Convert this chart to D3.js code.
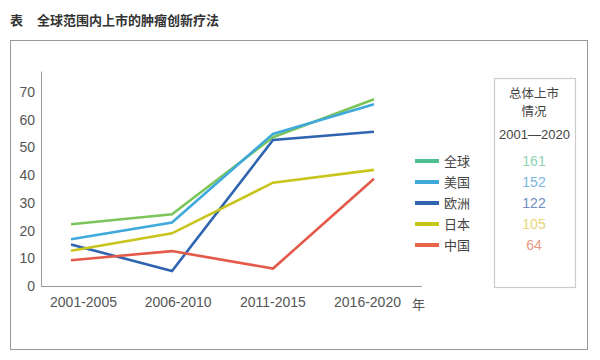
<!DOCTYPE html>
<html><head><meta charset="utf-8">
<script src="https://cdn.jsdelivr.net/npm/d3@7"></script>
<style>body{margin:0;background:#fff;}svg{display:block;font-family:"Noto Sans CJK SC","Liberation Sans",sans-serif;}</style>
</head><body>
<svg id="c" width="600" height="360"></svg>
<script>
const categories = ["2001-2005","2006-2010","2011-2015","2016-2020"];
const seriesNames = ["全球","美国","欧洲","日本","中国"];
const global = [22.3, 25.9, 53.7, 67.4];
const usa    = [16.9, 22.9, 54.9, 65.6];
const europe = [15.0, 5.4, 52.7, 55.7];
const japan  = [12.7, 19.0, 37.3, 41.9];
const china  = [9.3, 12.6, 6.3, 38.7];
const totals = [161, 152, 122, 105, 64];
const yTicks = [0,10,20,30,40,50,60,70];
const lineColors = ["#7cc55a","#3fa9dc","#2e64b0","#c9c41c","#e45a4a"];
const swatchColors = ["#4fbf8f","#3fa9dc","#2e64b0","#c9c41c","#e8654a"];
const totalColors = ["#8fd3b4","#7db6df","#6f8dbf","#e6d675","#e79a82"];
const seriesData = [global, usa, europe, japan, china];

const svg = d3.select("#c");
const numFont = "Liberation Sans, Arial, sans-serif";
// title
svg.append("text").attr("x",10).attr("y",25).attr("font-size",13).attr("font-weight","bold").attr("fill","#333").text("表");
svg.append("text").attr("x",37).attr("y",25).attr("font-size",13).attr("font-weight","bold").attr("fill","#333").text("全球范围内上市的肿瘤创新疗法");
// outer box
svg.append("rect").attr("x",10.5).attr("y",40.5).attr("width",577).attr("height",309).attr("fill","none").attr("stroke","#999").attr("stroke-width",1);

const y = d3.scaleLinear().domain([0,77.6]).range([286,71]);
const x = d3.scalePoint().domain(categories).range([71,374]);
const xLab = d3.scalePoint().domain(categories).range([83,367]);

// y axis
const ya = svg.append("g").attr("transform","translate(41,0)")
  .call(d3.axisLeft(y).tickValues(yTicks).tickSize(0).tickPadding(6));
ya.select(".domain").attr("stroke","#999");
ya.selectAll("text").attr("font-size",14).attr("fill","#555").attr("font-family",numFont);
// x axis
const xa = svg.append("g").attr("transform","translate(0,286)")
  .call(d3.axisBottom(xLab).tickSize(0).tickPadding(11));
xa.select(".domain").remove();
xa.selectAll("text").attr("font-size",14).attr("fill","#555").attr("font-family",numFont);
svg.append("line").attr("x1",41).attr("x2",422).attr("y1",286.5).attr("y2",286.5).attr("stroke","#999");
svg.append("text").attr("x",412).attr("y",309).attr("font-size",13).attr("fill","#555").text("年");

// lines
const line = d3.line().x((d,i)=>x(categories[i])).y(d=>y(d));
seriesData.forEach((s,i)=>{
  svg.append("path").datum(s).attr("d",line).attr("fill","none")
    .attr("stroke",lineColors[i]).attr("stroke-width",2.6);
});

// legend
const ly = d3.scalePoint().domain(seriesNames).range([161,245]);
seriesNames.forEach((n,i)=>{
  svg.append("line").attr("x1",415).attr("x2",439).attr("y1",ly(n)).attr("y2",ly(n))
    .attr("stroke",swatchColors[i]).attr("stroke-width",4);
  svg.append("text").attr("x",444).attr("y",ly(n)+4.5).attr("font-size",13).attr("fill","#444").text(n);
  svg.append("text").attr("x",534).attr("y",ly(n)+5).attr("text-anchor","middle").attr("font-size",14)
    .attr("fill",totalColors[i]).attr("font-family",numFont).text(totals[i]);
});
// inner box
svg.append("rect").attr("x",494.5).attr("y",78.5).attr("width",81).attr("height",209).attr("fill","none").attr("stroke","#ccc").attr("stroke-width",1.2);
svg.append("text").attr("x",534).attr("y",98).attr("text-anchor","middle").attr("font-size",12.5).attr("fill","#444").text("总体上市");
svg.append("text").attr("x",534).attr("y",116).attr("text-anchor","middle").attr("font-size",12.5).attr("fill","#444").text("情况");
svg.append("text").attr("x",534.5).attr("y",139).attr("text-anchor","middle").attr("font-size",13).attr("fill","#444").attr("font-family",numFont).text("2001—2020");
</script>
</body></html>
